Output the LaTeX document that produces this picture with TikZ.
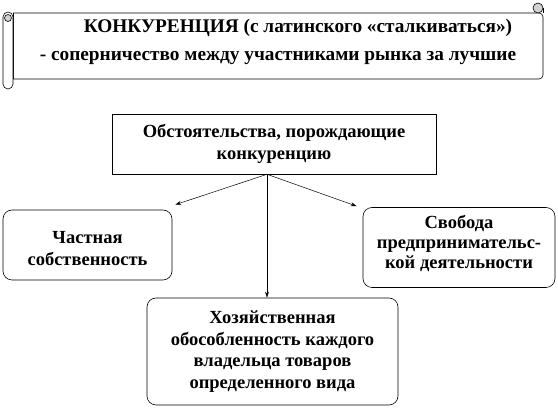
\documentclass[tikz,border=0pt]{standalone}
\usepackage{fontspec}
\setmainfont{Liberation Serif}
\usetikzlibrary{arrows.meta,calc}
\begin{document}
\begin{tikzpicture}[x=1pt,y=-1pt,
  line width=0.6pt,
  txt/.style={font=\fontsize{19.3}{22}\selectfont\bfseries, inner sep=0},
  sqbox/.style={draw, fill=white, align=center, inner sep=0, font=\fontsize{18.5}{21.5}\selectfont\bfseries},
  rbox/.style={sqbox, rounded corners=9pt},
  arr/.style={-{Stealth[length=6pt,width=4pt]}, line width=0.5pt}]
\useasboundingbox (0,0) rectangle (558,411);
% scroll
\draw[fill=white, rounded corners=4pt] (13,13) -- (543,13) -- (543,79) -- (13,79);
\draw (13,79) -- (13,13);
\draw (543,13) -- (543,8);
\draw[fill=gray!35] (538,8) circle (5);
\draw[fill=white] (3,17) -- (3,84) arc (180:0:5) -- (13,17) arc (0:-180:5) -- cycle;
\draw[fill=gray!35] (8,18) circle (3.5);
\node[txt] (t1) at (298,28) {КОНКУРЕНЦИЯ (с латинского «сталкиваться»)};
\node[txt] (t2) at (278,58) {- соперничество между участниками рынка за лучшие};
% boxes
\node[sqbox, minimum width=324, minimum height=60] (top) at (274,144) {Обстоятельства, порождающие\\конкуренцию};
\node[rbox, minimum width=169, minimum height=70] (lb) at (87.5,245) {\rule{0pt}{19pt}Частная\\собственность};
\node[rbox, minimum width=192, minimum height=80, font=\fontsize{18.5}{20}\selectfont\bfseries, text depth=12pt] (rb) at (459,247.5) {Свобода\\предпринимательс-\\кой деятельности};
\node[rbox, minimum width=251, minimum height=107] (bb) at (272.5,351.5) {Хозяйственная\\обособленность каждого\\владельца товаров\\определенного вида};
\coordinate (s) at ([xshift=-7pt]top.south);
\draw[arr] (s) -- ([shift={(3,-5)}]lb.north east);
\draw[arr] (s) -- ([shift={(-6,-1)}]rb.north west);
\draw[arr] (s) -- (s |- bb.north);
\end{tikzpicture}
\end{document}
